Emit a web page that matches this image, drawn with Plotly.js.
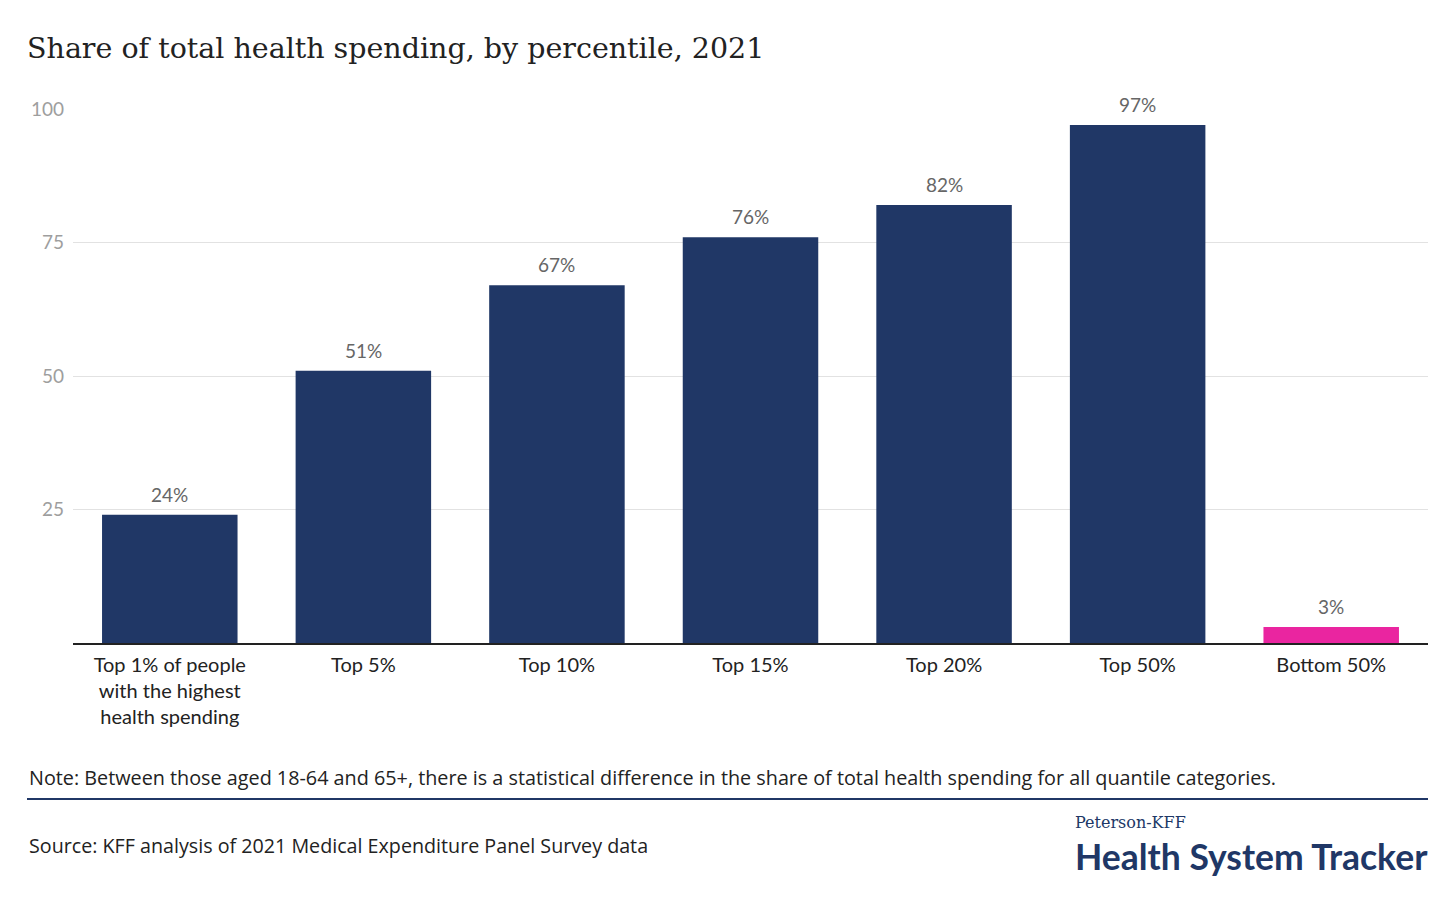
<!DOCTYPE html>
<html>
<head>
<meta charset="utf-8">
<script src="https://cdn.plot.ly/plotly-3.0.1.min.js"></script>
<style>
  html, body { margin: 0; padding: 0; background: #fff; }
  #graph { width: 1456px; height: 917px; }
</style>
</head>
<body>
<div id="graph"></div>
<script>
// categories and shares
var categories = [
  'Top 1% of people<br>with the highest<br>health spending',
  'Top 5%', 'Top 10%', 'Top 15%', 'Top 20%', 'Top 50%', 'Bottom 50%'
];
var shares = [24, 51, 67, 76, 82, 97, 3];
var barColors = ['#203766', '#203766', '#203766', '#203766', '#203766', '#203766', '#ea25a0'];
var yTicks = [25, 50, 75, 100];

var NAVY = '#203766';

function plot() {
  var trace = {
    x: categories,
    y: shares,
    type: 'bar',
    marker: { color: barColors },
    hoverinfo: 'none'
  };

  // value labels above each bar, placed through the axes
  var valueLabels = categories.map(function (c, i) {
    return {
      x: c, y: shares[i], xref: 'x', yref: 'y',
      text: shares[i] + '%',
      showarrow: false, yanchor: 'bottom', yshift: 7,
      font: { family: 'Lato, sans-serif', size: 19, color: '#666' }
    };
  });

  var layout = {
    width: 1456,
    height: 917,
    margin: { l: 73, r: 28, t: 109, b: 274 },
    paper_bgcolor: '#fff',
    plot_bgcolor: '#fff',
    bargap: 0.3,
    showlegend: false,
    title: {
      text: 'Share of total health spending, by percentile, 2021',
      font: { family: 'DejaVu Serif, serif', size: 28.5, color: '#222' },
      xref: 'container', x: 27 / 1456, xanchor: 'left',
      yref: 'container', y: 1 - 48 / 917, yanchor: 'middle'
    },
    xaxis: {
      type: 'category',
      showline: true,
      linecolor: '#222',
      linewidth: 1.5,
      ticks: '',
      ticklabelstandoff: 3,
      tickfont: { family: 'Lato, sans-serif', size: 20, color: '#222' },
      fixedrange: true
    },
    yaxis: {
      range: [0, 100],
      tickvals: yTicks,
      ticktext: yTicks.map(String),
      showgrid: true,
      gridcolor: '#e2e2e2',
      gridwidth: 1,
      zeroline: false,
      showline: false,
      ticks: '',
      ticklabelstandoff: 8,
      tickfont: { family: 'Lato, sans-serif', size: 19, color: '#9e9e9e' },
      fixedrange: true
    },
    shapes: [{
      type: 'line', xref: 'paper', yref: 'paper',
      x0: (27 - 73) / 1355, x1: 1, y0: (643 - 799) / 534, y1: (643 - 799) / 534,
      line: { color: NAVY, width: 2 }
    }],
    annotations: valueLabels.concat([
      {
        text: 'Note: Between those aged 18-64 and 65+, there is a statistical difference in the share of total health spending for all quantile categories.',
        xref: 'paper', yref: 'paper', x: (27 - 73) / 1355, y: (643 - 777) / 534,
        xanchor: 'left', yanchor: 'middle', showarrow: false,
        font: { family: 'Open Sans, sans-serif', size: 19.8, color: '#222' }
      },
      {
        text: 'Source: KFF analysis of 2021 Medical Expenditure Panel Survey data',
        xref: 'paper', yref: 'paper', x: (27 - 73) / 1355, y: (643 - 845) / 534,
        xanchor: 'left', yanchor: 'middle', showarrow: false,
        font: { family: 'Open Sans, sans-serif', size: 19.7, color: '#222' }
      },
      {
        text: 'Peterson-KFF',
        xref: 'paper', yref: 'paper', x: (1073 - 73) / 1355, y: (643 - 822) / 534,
        xanchor: 'left', yanchor: 'middle', showarrow: false,
        font: { family: 'DejaVu Serif, serif', size: 16, color: NAVY }
      },
      {
        text: '<b>Health System Tracker</b>',
        xref: 'paper', yref: 'paper', x: (1073 - 73) / 1355, y: (643 - 856) / 534,
        xanchor: 'left', yanchor: 'middle', showarrow: false,
        font: { family: 'Lato, sans-serif', size: 35.5, color: NAVY }
      }
    ])
  };

  Plotly.newPlot('graph', [trace], layout, { displayModeBar: false, staticPlot: true });
}

plot();
</script>
</body>
</html>
